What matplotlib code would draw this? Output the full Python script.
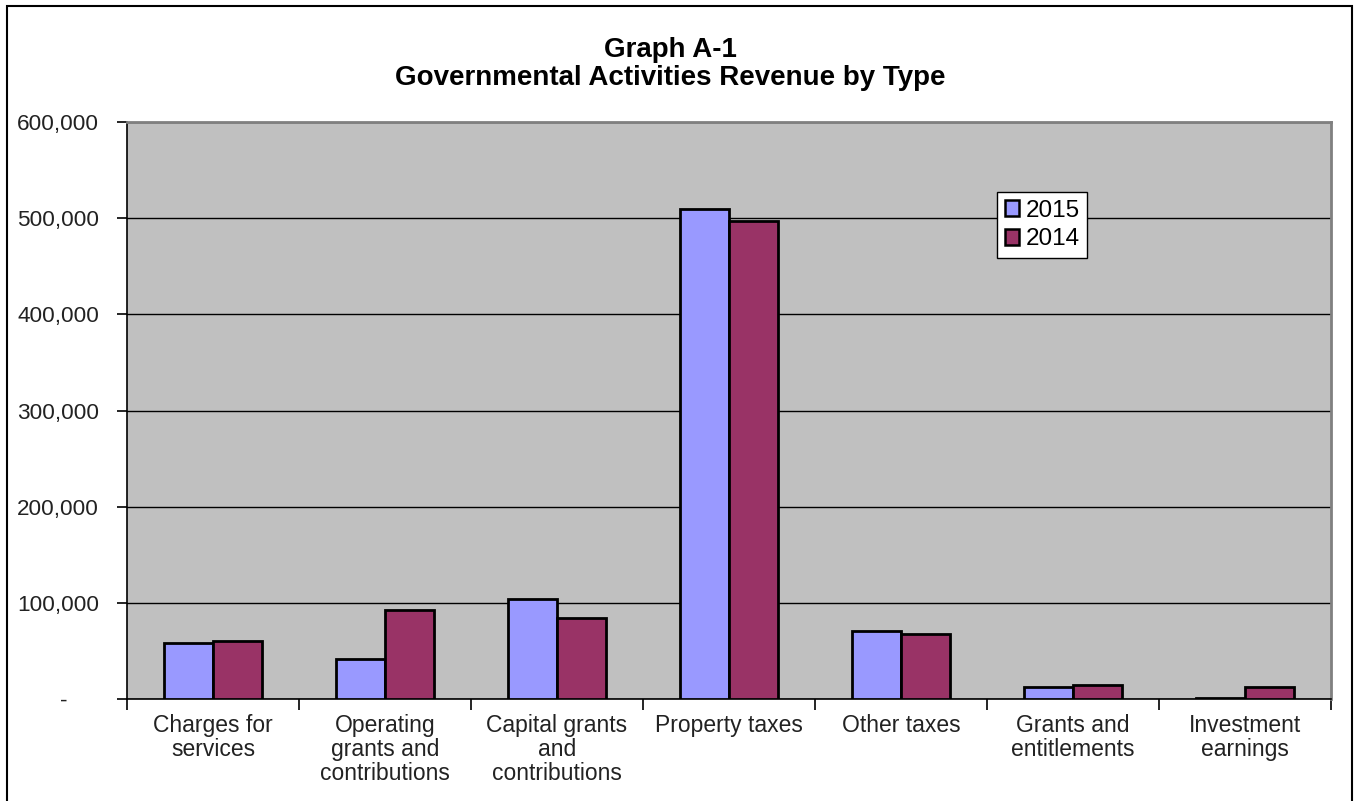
import numpy as np
import matplotlib
matplotlib.use("Agg")
from matplotlib import pyplot as plt
from matplotlib.patches import Rectangle
from matplotlib.ticker import FuncFormatter

categories = ["Charges for\nservices", "Operating\ngrants and\ncontributions",
              "Capital grants\nand\ncontributions", "Property taxes",
              "Other taxes", "Grants and\nentitlements", "Investment\nearnings"]
rev_2015 = [58000, 42000, 104200, 510000, 70600, 13000, 1500]
rev_2014 = [60400, 92400, 84400, 497500, 67200, 14400, 12000]
y_ticks = [0, 100000, 200000, 300000, 400000, 500000, 600000]

plt.rcParams["font.family"] = ["Liberation Sans", "DejaVu Sans"]

fig = plt.figure(figsize=(13.57, 8.01), dpi=100)
ax = fig.add_axes([0.0936, 0.1273, 0.8872, 0.7204])

x = np.arange(len(categories))
w = 0.285
ax.bar(x - w / 2, rev_2015, width=w, color="#9999FF", edgecolor="black",
       linewidth=2, label="2015", zorder=3)
ax.bar(x + w / 2, rev_2014, width=w, color="#993366", edgecolor="black",
       linewidth=2, label="2014", zorder=3)

ax.set_facecolor("#C0C0C0")
ax.set_xlim(-0.5, len(categories) - 0.5)
ax.set_ylim(0, 600000)
ax.set_yticks(y_ticks)
ax.yaxis.set_major_formatter(
    FuncFormatter(lambda v, p: "-     " if v == 0 else f"{int(v):,}"))
ax.grid(axis="y", color="black", linewidth=1, zorder=1)

# category labels centred, tick marks on group boundaries
ax.set_xticks(x)
ax.set_xticklabels(categories, linespacing=1.05)
ax.set_xticks(np.arange(len(categories) + 1) - 0.5, minor=True)
ax.tick_params(axis="x", which="major", length=0, pad=11, labelsize=16.5,
               labelcolor="#222222")
ax.tick_params(axis="x", which="minor", length=8, width=1.2, direction="out")
ax.tick_params(axis="y", length=7, width=1.2, direction="out", pad=13,
               labelsize=16.2, labelcolor="#222222")

for s in ["top", "right"]:
    ax.spines[s].set_color("#808080")
    ax.spines[s].set_linewidth(2)
for s in ["left", "bottom"]:
    ax.spines[s].set_color("black")
    ax.spines[s].set_linewidth(1.2)

leg = ax.legend(loc="upper left", bbox_to_anchor=(0.723, 0.878), fontsize=17.5,
                frameon=True, fancybox=False, framealpha=1,
                handlelength=0.6, handleheight=0.6,
                handletextpad=0.25, borderpad=0.3, labelspacing=0.28,
                borderaxespad=0)
leg.get_frame().set_edgecolor("black")
leg.get_frame().set_linewidth(1)
leg.get_frame().set_facecolor("white")
for h in leg.legend_handles:
    h.set_linewidth(1.8)

fig.text(0.494, 0.937, "Graph A-1", ha="center", va="center",
         fontsize=20, fontweight="bold")
fig.text(0.494, 0.902, "Governmental Activities Revenue by Type", ha="center",
         va="center", fontsize=20, fontweight="bold")

# outer chart border
fig.patches.append(Rectangle((7 / 1357, -0.05), 1345 / 1357, 1.05 - 6 / 801,
                             transform=fig.transFigure, fill=False,
                             edgecolor="black", linewidth=1.5))

fig.savefig("out.png", dpi=100)
